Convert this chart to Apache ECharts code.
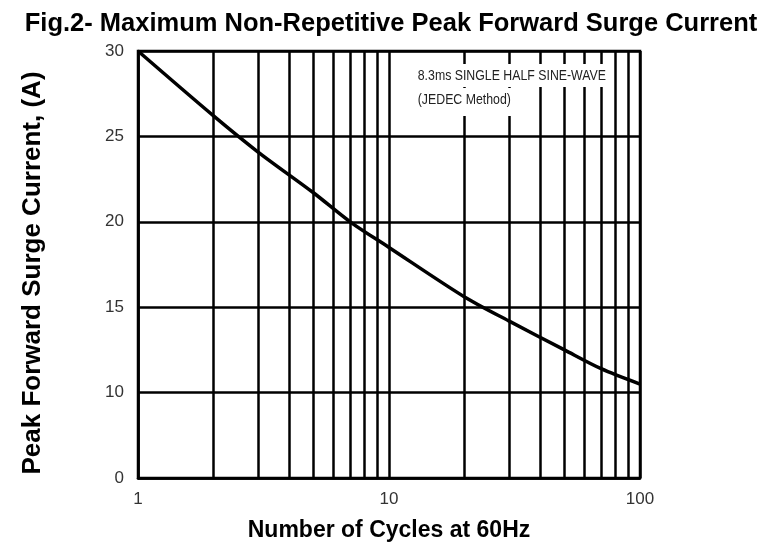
<!DOCTYPE html>
<html>
<head>
<meta charset="UTF-8">
<title>Surge current</title>
<style>
  html, body { margin: 0; padding: 0; background: #fff; }
  #main { width: 765px; height: 547px; }
</style>
<script src="https://cdn.jsdelivr.net/npm/echarts@6/dist/echarts.min.js"></script>
</head>
<body>
<div id="main"></div>
<script>
  // curve
  var cycles = [1, 2, 3, 5, 7, 10, 20, 30, 50, 70, 100];
  var surge = [30, 26.2, 24.1, 21.7, 20.0, 18.5, 15.6, 14.2, 12.5, 11.4, 10.5];
  // the vertical grid at 2..9 and 20..90
  var minorCycles = [2, 3, 4, 5, 6, 7, 8, 9, 20, 30, 40, 50, 60, 70, 80, 90];
  var noteLines = ['8.3ms SINGLE HALF SINE-WAVE', '(JEDEC Method)'];

  var myChart = echarts.init(document.getElementById('main'));
  var font = 'Arial, "Liberation Sans", sans-serif';

  var option = {
    animation: false,
    title: {
      text: 'Fig.2- Maximum Non-Repetitive Peak Forward Surge Current',
      left: 386,
      top: 6,
      textAlign: 'center',
      textStyle: { fontFamily: font, fontWeight: 'bold', fontSize: 25.5, color: '#000' }
    },
    grid: {
      left: 138, right: 125, top: 51, bottom: 69,
      show: true, borderColor: '#000', borderWidth: 2.5
    },
    xAxis: {
      type: 'log',
      logBase: 10,
      min: 1,
      max: 100,
      name: 'Number of Cycles at 60Hz',
      nameLocation: 'middle',
      nameGap: 41,
      nameTextStyle: { fontFamily: font, fontWeight: 'bold', fontSize: 23, color: '#000' },
      axisLine: { lineStyle: { color: '#000', width: 2.5 } },
      axisTick: { show: false },
      axisLabel: { margin: 13, fontFamily: font, fontSize: 17, color: '#333' },
      splitLine: { show: true, lineStyle: { color: '#000', width: 2.5 } }
    },
    yAxis: {
      type: 'value',
      min: 5,
      max: 30,
      interval: 5,
      name: 'Peak Forward Surge Current, (A)',
      nameLocation: 'middle',
      nameRotate: 90,
      nameGap: 92,
      nameTextStyle: {
        fontFamily: font, fontWeight: 'bold', fontSize: 26, color: '#000',
        padding: [0, 17, 0, 0]
      },
      axisLine: { show: true, lineStyle: { color: '#000', width: 2.5 } },
      axisTick: { show: false },
      axisLabel: {
        margin: 14, fontFamily: font, fontSize: 17, color: '#333',
        formatter: function (v) { return v === 5 ? '0' : String(v); }
      },
      splitLine: { show: true, lineStyle: { color: '#000', width: 2.5 } }
    },
    graphic: [
      {
        type: 'text', x: 416, y: 64, scaleX: 0.88, z: 100,
        style: {
          text: noteLines[0], fontFamily: font, fontSize: 14, fill: '#222',
          backgroundColor: '#fff', padding: [5, 4, 4, 2]
        }
      },
      {
        type: 'text', x: 416, y: 88, scaleX: 0.88, z: 100,
        style: {
          text: noteLines[1], fontFamily: font, fontSize: 14, fill: '#222',
          backgroundColor: '#fff', padding: [5, 4, 9, 2]
        }
      }
    ],
    series: [
      {
        type: 'line',
        data: cycles.map(function (c, i) { return [c, surge[i]]; }),
        smooth: 0.3,
        showSymbol: false,
        lineStyle: { color: '#000', width: 3.5 },
        z: 5,
        markLine: {
          silent: true,
          symbol: 'none',
          label: { show: false },
          lineStyle: { color: '#000', width: 2.5, type: 'solid' },
          data: minorCycles.map(function (c) { return { xAxis: c }; })
        }
      }
    ]
  };
  myChart.setOption(option);
</script>
</body>
</html>
